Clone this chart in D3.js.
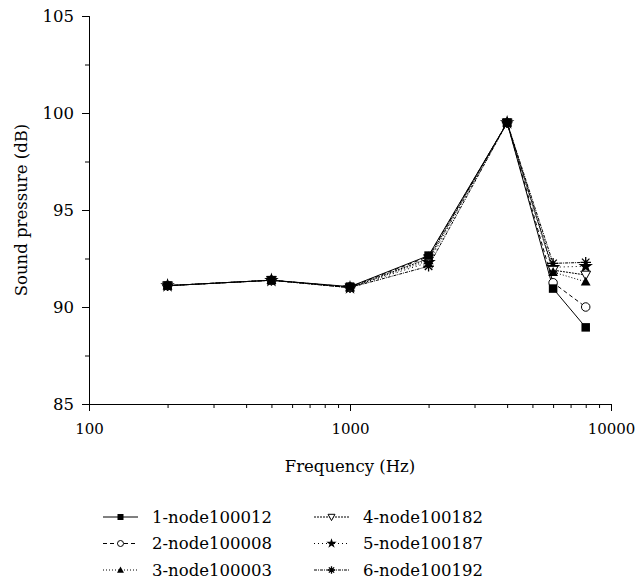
<!DOCTYPE html>
<html><head><meta charset="utf-8">
<script src="https://cdn.jsdelivr.net/npm/d3@7"></script>
<style>body{margin:0;background:#fff}svg{display:block}text{font-family:"DejaVu Serif",serif;fill:#000}</style>
</head><body>
<script>
const freqs = [200, 500, 1000, 2000, 4000, 6000, 8000];
const names = ["1-node100012","2-node100008","3-node100003","4-node100182","5-node100187","6-node100192"];
const s1 = [91.1, 91.38, 91.05, 92.65, 99.5, 90.95, 88.95];
const s2 = [91.1, 91.38, 91.03, 92.6, 99.5, 91.25, 90.0];
const s3 = [91.1, 91.38, 91.0, 92.4, 99.5, 91.8, 91.3];
const s4 = [91.1, 91.38, 91.0, 92.5, 99.5, 91.9, 91.65];
const s5 = [91.1, 91.38, 91.0, 92.3, 99.5, 92.05, 92.1];
const s6 = [91.1, 91.38, 91.0, 92.1, 99.5, 92.25, 92.3];
const series = [s1, s2, s3, s4, s5, s6];
const xTicks = [100, 1000, 10000];
const yTicks = [85, 90, 95, 100, 105];

const W = 635, H = 583;
const L = 89, R = 611, T = 16, B = 404;
const svg = d3.select("body").append("svg").attr("width", W).attr("height", H);
const x = d3.scaleLog().domain([100, 10000]).range([L, R]);
const y = d3.scaleLinear().domain([85, 105]).range([B, T]);

const dashes = [null, "4,3", "1,2", "2,1", "1,3", "3,1,1,1"];
const markers = ["square", "circle", "tri", "itri", "star", "ast"];

function drawMarker(g, type, s) {
  if (type === "square") g.append("rect").attr("x", -s/2).attr("y", -s/2).attr("width", s).attr("height", s).attr("fill", "#000");
  else if (type === "circle") g.append("circle").attr("r", s/2).attr("fill", "#fff").attr("stroke", "#000").attr("stroke-width", 1);
  else if (type === "tri") g.append("path").attr("d", `M0,${-s*0.6}L${s*0.58},${s*0.45}L${-s*0.58},${s*0.45}Z`).attr("fill", "#000");
  else if (type === "itri") g.append("path").attr("d", `M0,${s*0.6}L${s*0.58},${-s*0.45}L${-s*0.58},${-s*0.45}Z`).attr("fill", "#fff").attr("stroke", "#000").attr("stroke-width", 1);
  else if (type === "star") g.append("path").attr("d", d3.symbol(d3.symbolStar, s*s*0.9)()).attr("fill", "#000");
  else if (type === "ast") {
    const r = s*0.62; let d = "";
    for (let i = 0; i < 4; i++) { const a = i*Math.PI/4; d += `M${r*Math.cos(a)},${r*Math.sin(a)}L${-r*Math.cos(a)},${-r*Math.sin(a)}`; }
    g.append("path").attr("d", d).attr("stroke", "#000").attr("stroke-width", 1.3);
    g.append("circle").attr("r", s*0.22).attr("fill", "#000");
  }
}

// axes
const xMinor = [];
for (let dec = 100; dec < 10000; dec *= 10) for (let k = 2; k <= 9; k++) xMinor.push(dec*k);
const gx = svg.append("g").attr("transform", `translate(0,${B})`);
gx.call(d3.axisBottom(x).tickValues(xMinor).tickSize(4).tickFormat(""));
gx.append("g").call(d3.axisBottom(x).tickValues(xTicks).tickSize(7).tickFormat(d3.format("d")));
gx.selectAll("path.domain").attr("stroke", "#000");
gx.selectAll("line").attr("stroke", "#000");
gx.selectAll("text").attr("font-size", 15).attr("dy", "1.3em").style("font-family", "DejaVu Serif");

const yMinor = [87.5, 92.5, 97.5, 102.5];
const gy = svg.append("g").attr("transform", `translate(${L},0)`);
gy.call(d3.axisLeft(y).tickValues(yMinor).tickSize(4).tickFormat(""));
gy.append("g").call(d3.axisLeft(y).tickValues(yTicks).tickSize(7).tickFormat(d3.format("d")));
gy.selectAll("path.domain").attr("stroke", "#000");
gy.selectAll("line").attr("stroke", "#000");
gy.selectAll("text").attr("font-size", 16.5).attr("dx", "-0.3em").style("font-family", "DejaVu Serif");

svg.append("text").attr("x", (L+R)/2).attr("y", 472).attr("text-anchor", "middle").attr("font-size", 16.5).text("Frequency (Hz)");
svg.append("text").attr("transform", `translate(27,${(T+B)/2}) rotate(-90)`).attr("text-anchor", "middle").attr("font-size", 16.5).text("Sound pressure (dB)");

// lines
const line = d3.line().x((d, i) => x(freqs[i])).y(d => y(d));
for (let k = series.length - 1; k >= 0; k--) {
  svg.append("path").attr("d", line(series[k])).attr("fill", "none").attr("stroke", "#000").attr("stroke-width", 1)
    .attr("stroke-dasharray", dashes[k]);
}
for (let k = series.length - 1; k >= 0; k--) {
  series[k].forEach((v, i) => {
    const g = svg.append("g").attr("transform", `translate(${x(freqs[i])},${y(v)})`);
    drawMarker(g, markers[k], 8.5);
  });
}

// legend
names.forEach((n, k) => {
  const col = Math.floor(k / 3), row = k % 3;
  const lx = col === 0 ? 103 : 314;
  const ly = 517 + row * 26.5;
  const g = svg.append("g").attr("transform", `translate(${lx},${ly})`);
  g.append("line").attr("x1", 0).attr("x2", 35).attr("y1", 0).attr("y2", 0).attr("stroke", "#000").attr("stroke-width", 1).attr("stroke-dasharray", dashes[k]);
  const m = g.append("g").attr("transform", "translate(17.5,0)");
  drawMarker(m, markers[k], 6);
  g.append("text").attr("x", 49).attr("y", 0).attr("dy", "0.36em").attr("font-size", 16.5).text(n);
});
</script>
</body></html>
